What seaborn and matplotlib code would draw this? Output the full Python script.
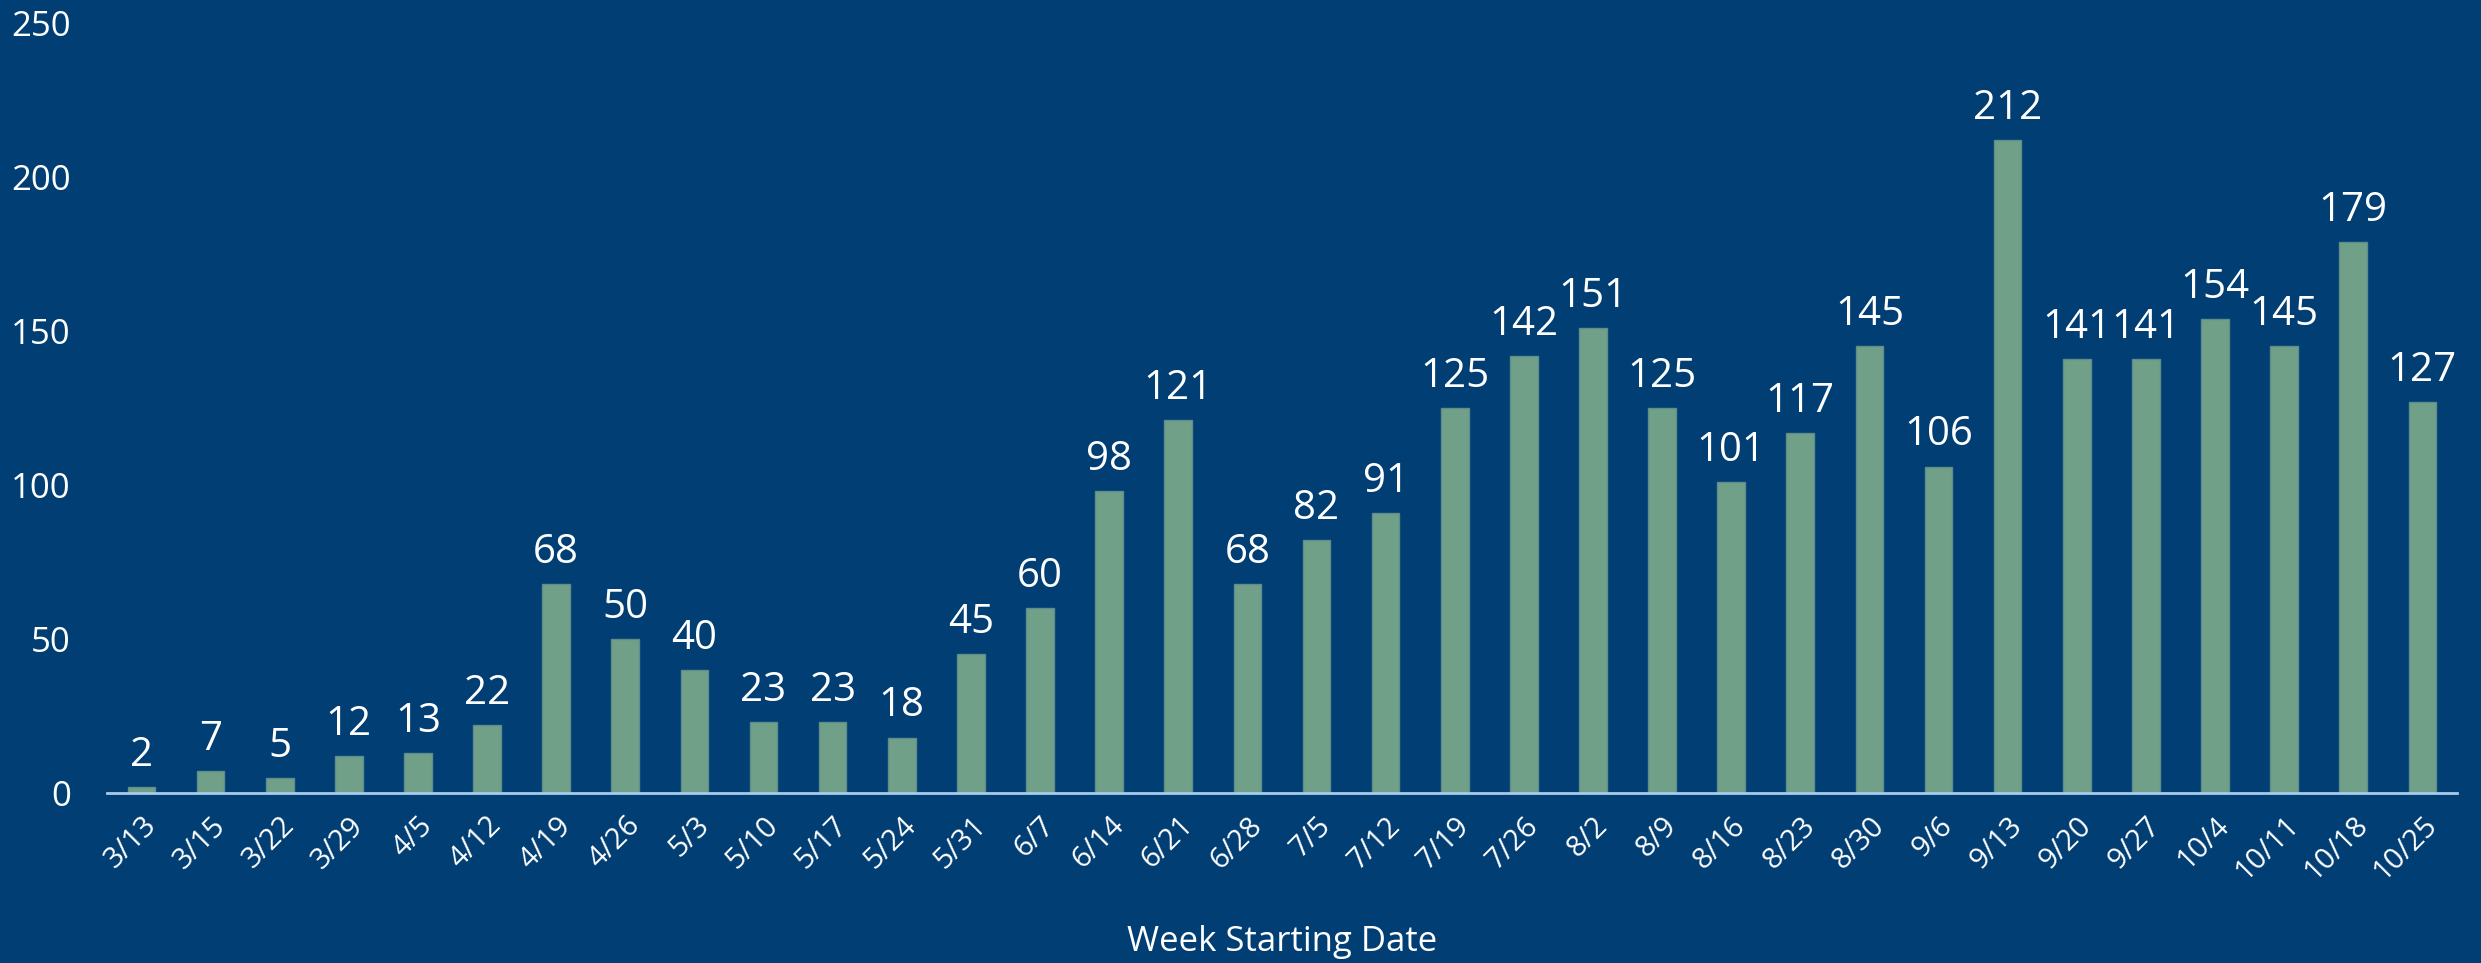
import numpy as np
import pandas as pd
import matplotlib
matplotlib.use("Agg")
import matplotlib.pyplot as plt
import seaborn as sns

# weekly counts
weeks = ['3/13', '3/15', '3/22', '3/29', '4/5', '4/12', '4/19', '4/26', '5/3',
         '5/10', '5/17', '5/24', '5/31', '6/7', '6/14', '6/21', '6/28', '7/5',
         '7/12', '7/19', '7/26', '8/2', '8/9', '8/16', '8/23', '8/30', '9/6',
         '9/13', '9/20', '9/27', '10/4', '10/11', '10/18', '10/25']
counts = [2, 7, 5, 12, 13, 22, 68, 50, 40, 23, 23, 18, 45, 60, 98, 121, 68, 82,
          91, 125, 142, 151, 125, 101, 117, 145, 106, 212, 141, 141, 154, 145,
          179, 127]
y_ticks = [0, 50, 100, 150, 200, 250]

BG = '#013E73'
BAR = '#71A089'
AXIS = '#A8CBEA'

df = pd.DataFrame({'week': weeks, 'count': counts})

sns.set_style('white')
plt.rcParams['font.family'] = ['Open Sans', 'DejaVu Sans']

fig = plt.figure(figsize=(24.81, 9.63), dpi=100, facecolor=BG)
ax = fig.add_axes([0.0431, 0.1765, 0.9472, 0.7995])
ax.set_facecolor(BG)

sns.barplot(data=df, x='week', y='count', color=BAR, width=0.4,
            edgecolor='#5E8E8C', linewidth=1, saturation=1, ax=ax)

# value labels above the bars
ax.bar_label(ax.containers[0], labels=[str(v) for v in counts], padding=8,
             color='white', fontsize=29)

ax.set_ylim(0, 250)
ax.set_xlim(-0.5, len(weeks) - 0.5)
ax.set_yticks(y_ticks)
ax.tick_params(axis='y', length=0, pad=26, labelsize=25, labelcolor='white')

# labels under categories, tick marks at the boundaries
ax.tick_params(axis='x', which='major', length=0, pad=13, labelsize=21,
               labelcolor='white')
ax.set_xticks(np.arange(-0.5, len(weeks), 1.0), minor=True)
ax.tick_params(axis='x', which='minor', length=11, width=2, color=AXIS,
               direction='out')
plt.setp(ax.get_xticklabels(), rotation=45, ha='right', rotation_mode='anchor')

for side in ['top', 'right', 'left']:
    ax.spines[side].set_visible(False)
ax.spines['bottom'].set_color(AXIS)
ax.spines['bottom'].set_linewidth(2)

ax.set_ylabel('')
ax.set_xlabel('Week Starting Date', color='white', fontsize=25, labelpad=28)

fig.savefig('out.png', dpi=100, facecolor=BG)
